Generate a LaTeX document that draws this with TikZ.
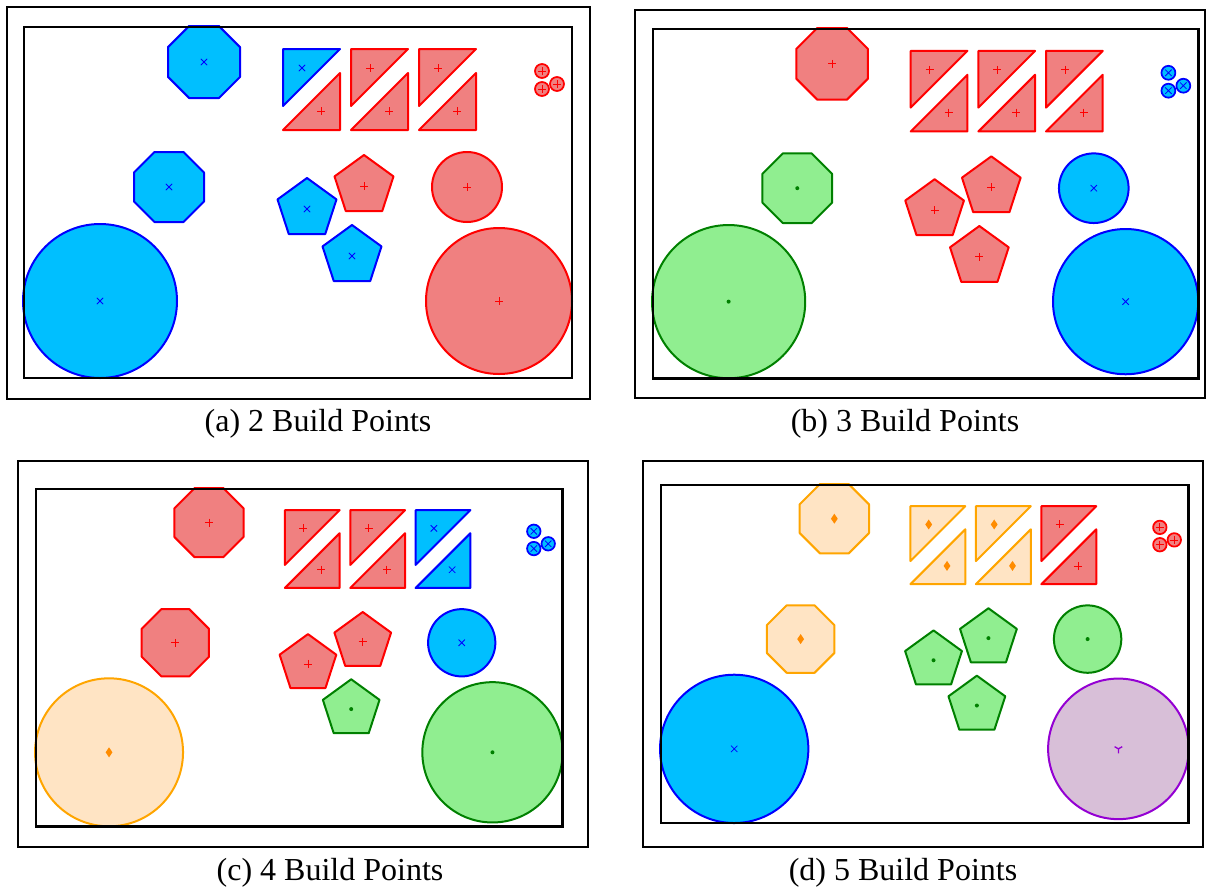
\documentclass[tikz,border=0pt]{standalone}
\usepackage{fontspec}
\setmainfont{Liberation Serif}

\definecolor{rstroke}{RGB}{255,0,0}
\definecolor{rfill}{RGB}{240,128,128}
\definecolor{bstroke}{RGB}{0,0,255}
\definecolor{bfill}{RGB}{0,191,255}
\definecolor{gstroke}{RGB}{0,128,0}
\definecolor{gfill}{RGB}{144,238,144}
\definecolor{ostroke}{RGB}{255,165,0}
\definecolor{omark}{RGB}{255,140,0}
\definecolor{ofill}{RGB}{255,228,196}
\definecolor{pstroke}{RGB}{148,0,211}
\definecolor{pfill}{RGB}{216,191,216}

\tikzset{
  shred/.style={draw=rstroke, fill=rfill, line width=1.5pt, line join=round},
  shblue/.style={draw=bstroke, fill=bfill, line width=1.5pt, line join=round},
  shgreen/.style={draw=gstroke, fill=gfill, line width=1.5pt, line join=round},
  shorange/.style={draw=ostroke, fill=ofill, line width=1.5pt, line join=round},
  shpurple/.style={draw=pstroke, fill=pfill, line width=1.5pt, line join=round},
  outerframe/.style={draw=black, line width=1.5pt},
  innerframe/.style={draw=black, line width=2pt},
  caption/.style={font=\fontsize{24}{28}\selectfont, anchor=base, inner sep=0pt},
  pics/mkred/.style={code={\draw[rstroke, line width=0.6pt] (-4,0)--(4,0) (0,-4)--(0,4);}},
  pics/mkblue/.style={code={\draw[bstroke, line width=0.6pt] (-3.2,-3.2)--(3.2,3.2) (-3.2,3.2)--(3.2,-3.2);}},
  pics/mkgreen/.style={code={\fill[gstroke] (0,0) circle (2);}},
  pics/mkorange/.style={code={\fill[omark] (0,-5)--(3.4,0)--(0,5)--(-3.4,0)--cycle;}},
  pics/mkpurple/.style={code={\draw[pstroke, line width=1pt] (0,0)--(0,4.5) (0,0)--(-3.8,-2.2) (0,0)--(3.8,-2.2);}},
}

% octagon: centre x, centre y, apothem, colour kind
\newcommand\drawoct[4]{%
  \begin{scope}[shift={(#1,#2)}]
    \pgfmathsetmacro\octR{#3/0.92388}
    \draw[sh#4] (22.5:\octR) \foreach \k in {1,...,7}{ -- (22.5+45*\k:\octR)} -- cycle;
    \pic {mk#4};
  \end{scope}}
% pentagon with a point on top
\newcommand\drawpent[3]{%
  \begin{scope}[shift={(#1,#2)}]
    \draw[sh#3] (-90:31) -- (-18:31) -- (54:31) -- (126:31) -- (198:31) -- cycle;
    \pic {mk#3};
  \end{scope}}
% disc: centre x, centre y, radius, kind
\newcommand\drawdisc[4]{%
  \draw[sh#4] (#1,#2) circle (#3);
  \pic at (#1,#2) {mk#4};}
% right triangles of one column
\newcommand\drawtriup[2]{%
  \draw[sh#2] (#1,22) -- ++(57,0) -- ++(-57,57) -- cycle;
  \pic at ({#1+19},41) {mk#2};}
\newcommand\drawtrilow[2]{%
  \draw[sh#2] ({#1+57},46) -- ++(0,57) -- ++(-57,0) -- cycle;
  \pic at ({#1+38},84) {mk#2};}
% three tiny discs in the corner
\newcommand\drawcluster[1]{%
  \foreach \cx/\cy in {518/44,518/62,533/57}{%
    \draw[sh#1, line width=1.3pt] (\cx,\cy) circle (7);
    \pic at (\cx,\cy) {mk#1};}}

\begin{document}
\begin{tikzpicture}[x=0.75pt, y=-0.75pt]
\useasboundingbox (0,0) rectangle (1207,886);

% ---------- (a) ----------
\draw[outerframe] (7,7) rectangle (590,399);
\begin{scope}[shift={(24,27)}]
  \drawdisc{76}{274}{77}{blue}
  \drawdisc{475}{274}{73}{red}
  \drawdisc{443}{160}{35}{red}
  \drawoct{180}{35}{36}{blue}
  \drawoct{145}{160}{35}{blue}
  \drawpent{340}{159}{red}
  \drawpent{283}{182}{blue}
  \drawpent{328}{229}{blue}
  \drawtriup{259}{blue}  \drawtrilow{259}{red}
  \drawtriup{327}{red}   \drawtrilow{327}{red}
  \drawtriup{395}{red}   \drawtrilow{395}{red}
  \drawcluster{red}
  \draw[innerframe] (0,0) rectangle (548,351);
\end{scope}
\node[caption] (capa) at (318,431) {(a) 2 Build Points};

% ---------- (b) ----------
\draw[outerframe] (635,10) rectangle (1205,398);
\begin{scope}[shift={(653,29)}, scale=0.995]
  \drawdisc{76}{274}{77}{green}
  \drawdisc{475}{274}{73}{blue}
  \drawdisc{443}{160}{35}{blue}
  \drawoct{180}{35}{36}{red}
  \drawoct{145}{160}{35}{green}
  \drawpent{340}{159}{red}
  \drawpent{283}{182}{red}
  \drawpent{328}{229}{red}
  \drawtriup{259}{red}   \drawtrilow{259}{red}
  \drawtriup{327}{red}   \drawtrilow{327}{red}
  \drawtriup{395}{red}   \drawtrilow{395}{red}
  \drawcluster{blue}
  \draw[innerframe] (0,0) rectangle (548,351);
\end{scope}
\node[caption] (capb) at (905,431) {(b) 3 Build Points};

% ---------- (c) ----------
\draw[outerframe] (18,461) rectangle (588,847);
\begin{scope}[shift={(36,489)}, scale=0.961]
  \drawdisc{76}{274}{77}{orange}
  \drawdisc{475}{274}{73}{green}
  \drawdisc{443}{160}{35}{blue}
  \drawoct{180}{35}{36}{red}
  \drawoct{145}{160}{35}{red}
  \drawpent{340}{159}{red}
  \drawpent{283}{182}{red}
  \drawpent{328}{229}{green}
  \drawtriup{259}{red}   \drawtrilow{259}{red}
  \drawtriup{327}{red}   \drawtrilow{327}{red}
  \drawtriup{395}{blue}  \drawtrilow{395}{blue}
  \drawcluster{blue}
  \draw[innerframe] (0,0) rectangle (548,351);
\end{scope}
\node[caption] (capc) at (330,880) {(c) 4 Build Points};

% ---------- (d) ----------
\draw[outerframe] (643,461) rectangle (1203,847);
\begin{scope}[shift={(661,485)}, scale=0.963]
  \drawdisc{76}{274}{77}{blue}
  \drawdisc{475}{274}{73}{purple}
  \drawdisc{443}{160}{35}{green}
  \drawoct{180}{35}{36}{orange}
  \drawoct{145}{160}{35}{orange}
  \drawpent{340}{159}{green}
  \drawpent{283}{182}{green}
  \drawpent{328}{229}{green}
  \drawtriup{259}{orange} \drawtrilow{259}{orange}
  \drawtriup{327}{orange} \drawtrilow{327}{orange}
  \drawtriup{395}{red}    \drawtrilow{395}{red}
  \drawcluster{red}
  \draw[innerframe] (0,0) rectangle (548,351);
\end{scope}
\node[caption] (capd) at (903,880) {(d) 5 Build Points};
\end{tikzpicture}
\end{document}
